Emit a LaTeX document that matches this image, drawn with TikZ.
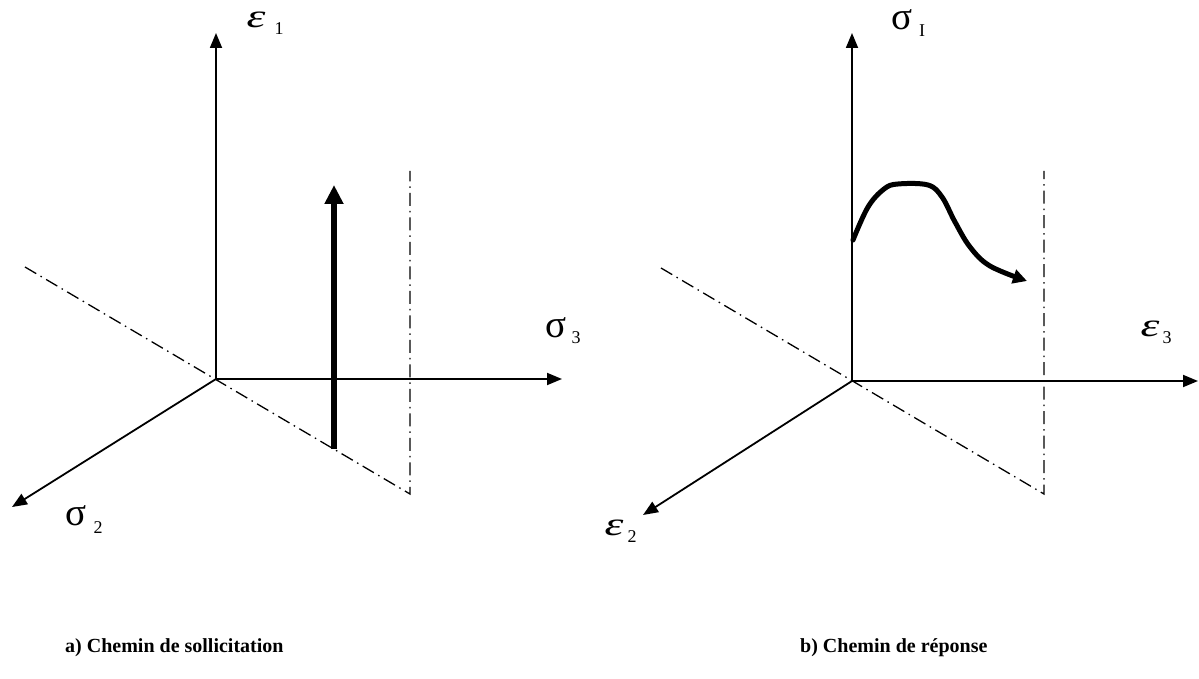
\documentclass[tikz,border=0pt]{standalone}
\usepackage{fontspec}
\setmainfont{Liberation Serif}
\usetikzlibrary{positioning,arrows.meta}

\begin{document}
\begin{tikzpicture}[
    x=1pt, y=-1pt,
    axis/.style={line width=1.8pt, -{Triangle[length=15pt,width=12pt]}},
    plane/.style={line width=1.3pt, dash pattern=on 13pt off 5pt on 1.5pt off 5pt},
    load/.style={line width=6pt, -{Triangle[length=19pt,width=18pt]}},
    resp/.style={line width=5pt, line cap=round, -{Triangle[length=14pt,width=14pt]}},
    sym/.style={font=\fontsize{33}{34}\selectfont, inner sep=0pt, anchor=base},
    sig/.style={font=\fontsize{39}{40}\selectfont, inner sep=0pt, anchor=base},
    idx/.style={font=\fontsize{18}{19}\selectfont, inner sep=0pt, anchor=base},
    caption/.style={font=\bfseries\fontsize{20}{22}\selectfont, anchor=west, inner sep=0pt},
]
\useasboundingbox (0,0) rectangle (1199,679);

\newcommand{\epsym}{\scalebox{1.45}[1]{\itshape ε}}

% a) loading path
\coordinate (oa) at (216,379);
\coordinate (e1tip) at (216,33);
\coordinate (s3tip) at (562,379);
\coordinate (s2tip) at (12,507);
\coordinate (pla) at (25,267);
\coordinate (plb) at (410,494);
\coordinate (plc) at (410,171);
\coordinate (lda) at (334,449);
\coordinate (ldb) at (334,185);

\draw[plane] (pla) -- (plb) -- (plc);
\draw[axis] (oa) -- (e1tip);
\draw[axis] (oa) -- (s3tip);
\draw[axis] (oa) -- (s2tip);
\draw[load] (lda) -- (ldb);

\node[sym] (e1) at (256,28) {\epsym};
\node[idx] (e1i) at (279,35) {1};
\node[sig] (s3) at (556,337) {σ};
\node[idx] (s3i) at (576,343) {3};
\node[sig] (s2) at (76,525) {σ};
\node[idx] (s2i) at (98,533) {2};

% b) response path
\coordinate (ob) at (852,381);
\coordinate (s1tip) at (852,33);
\coordinate (e3tip) at (1198,381);
\coordinate (e2tip) at (643,515);
\coordinate (pra) at (661,268);
\coordinate (prb) at (1044,494);
\coordinate (prc) at (1044,171);

\draw[plane] (pra) -- (prb) -- (prc);
\draw[axis] (ob) -- (s1tip);
\draw[axis] (ob) -- (e3tip);
\draw[axis] (ob) -- (e2tip);
\draw[resp] plot[smooth, tension=0.6] coordinates {(853,240) (868,207) (884,189) (898,184) (928,185) (942,197) (955,222) (970,247) (990,266) (1027,281)};

\node[sig] (s1) at (902,30) {σ};
\node[idx] (s1i) at (922,37) {I};
\node[sym] (e3) at (1150,336) {\epsym};
\node[idx] (e3i) at (1167,343) {3};
\node[sym] (e2) at (614,535) {\epsym};
\node[idx] (e2i) at (632,542) {2};

% captions
\node[caption] (capa) at (65,648) {a) Chemin de sollicitation};
\node[caption] (capb) at (800,648) {b) Chemin de réponse};

\end{tikzpicture}
\end{document}
